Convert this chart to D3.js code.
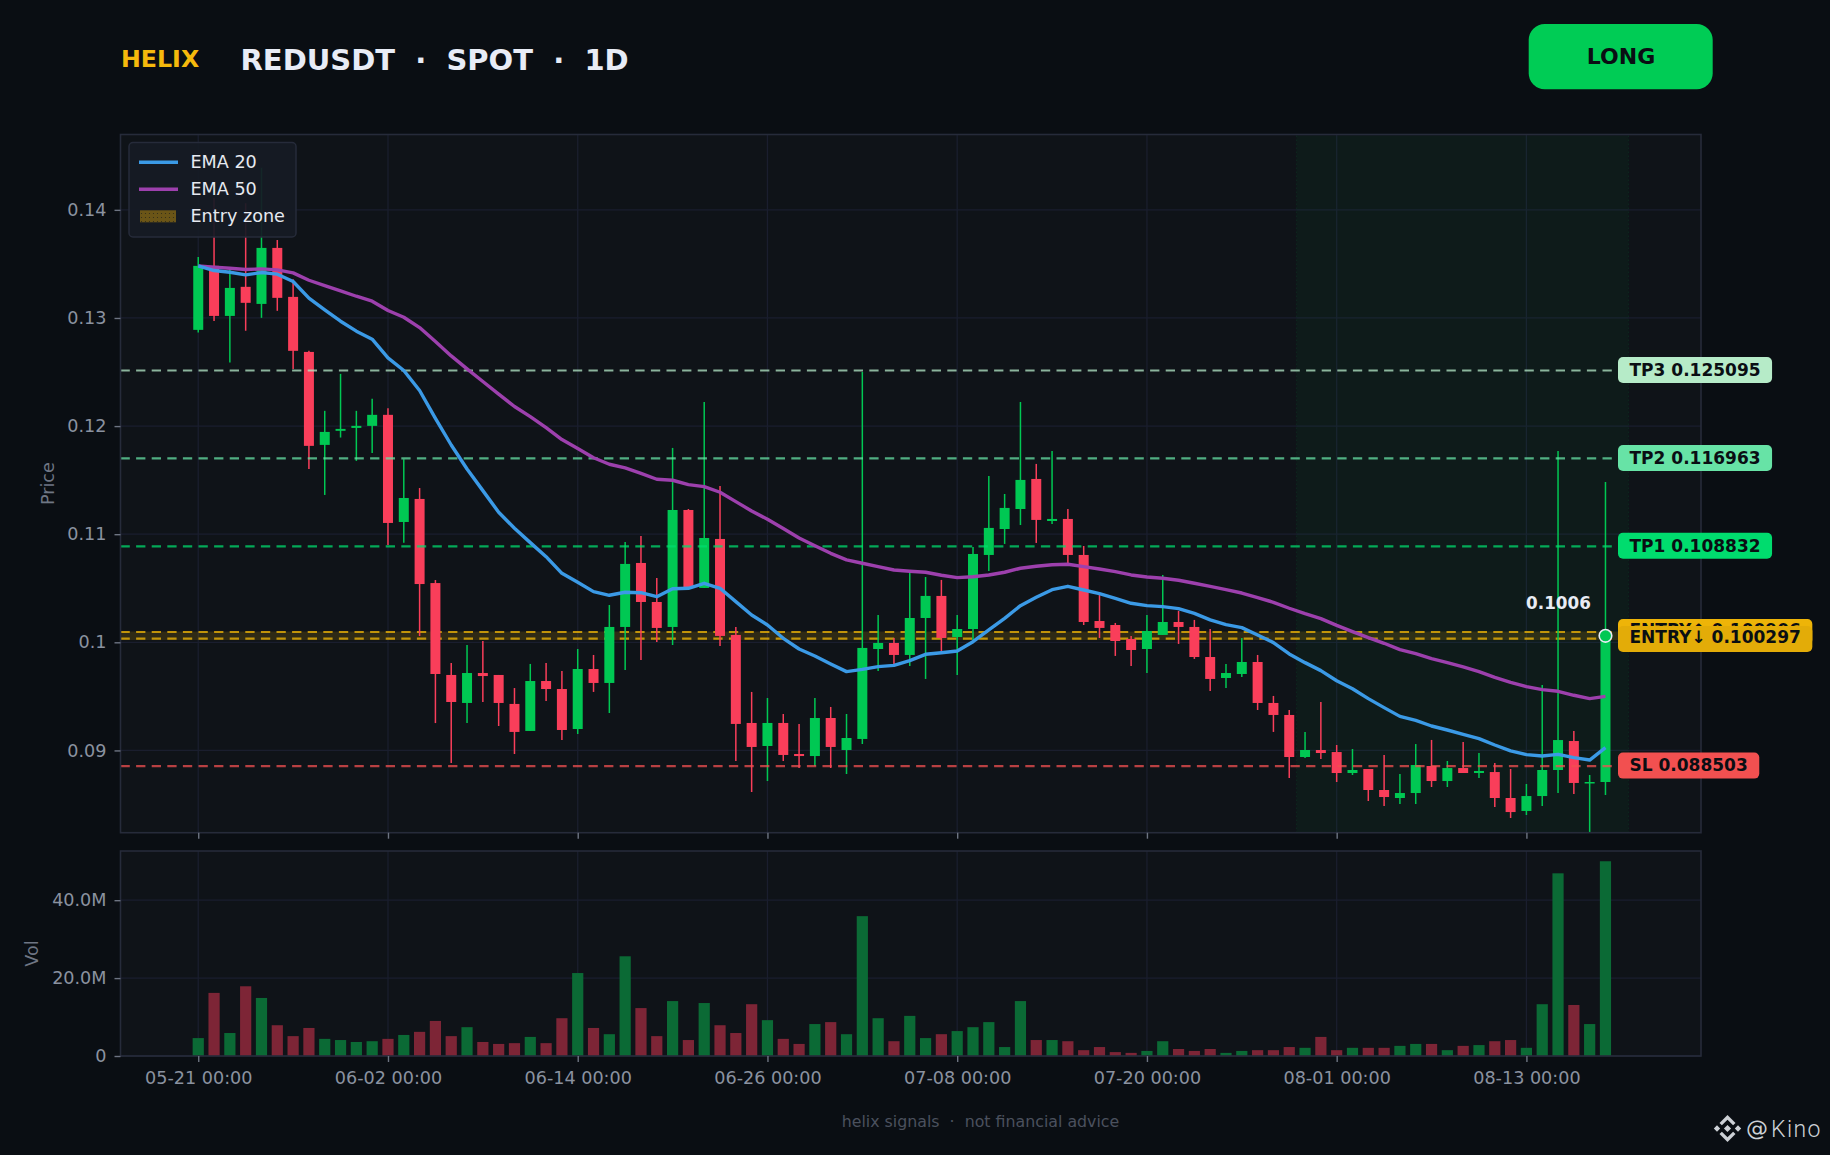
<!DOCTYPE html>
<html>
<head>
<meta charset="utf-8">
<script src="https://cdn.jsdelivr.net/npm/d3@7"></script>
<style>
  html, body { margin: 0; padding: 0; background: #0a0e13; }
  svg { display: block; }
  text { font-family: "DejaVu Sans", sans-serif; white-space: pre; }
</style>
</head>
<body>
<div id="chart"></div>
<script>
// values, one entry per daily candle from 05-21
const firstDay = "2025-05-21";
const opens = [.1289,.13482,.13019,.13288,.1313,.13648,.13195,.12686,.11826,.11956,.11983,.12002,.12104,.11113,.11326,.10548,.09698,.09439,.09716,.09698,.0943,.0918,.09642,.09568,.09198,.09753,.09624,.10142,.10734,.10373,.10142,.11224,.10503,.10956,.10068,.09254,.09041,.09254,.08967,.08948,.093,.09004,.09106,.09938,.09994,.09883,.10225,.10429,.10049,.10123,.10808,.11048,.11233,.11511,.11122,.11141,.10808,.10197,.1016,.10031,.09938,.10068,.10188,.10142,.09864,.0967,.09707,.09818,.09439,.09328,.08939,.09004,.08985,.08791,.08828,.08634,.0856,.08606,.08856,.08717,.08837,.08791,.088,.0856,.0844,.08578,.08819,.09087,.08699,.08708];
const closes = [.13482,.13019,.13278,.1314,.13648,.13186,.12696,.11817,.11946,.11974,.12002,.12104,.11104,.11335,.10539,.09707,.09448,.09716,.09688,.09439,.09171,.09642,.09568,.09189,.09753,.09624,.10142,.10725,.10373,.10133,.11224,.10503,.10965,.10059,.09245,.09032,.09254,.08958,.08948,.093,.09032,.09115,.09948,.09994,.09883,.10225,.10429,.1004,.10123,.10817,.11058,.11243,.11502,.11132,.11141,.10808,.10188,.10133,.10012,.09929,.10105,.10188,.10142,.09864,.09661,.09716,.09818,.09439,.09328,.08939,.09004,.08976,.08791,.08819,.08634,.08569,.08606,.08865,.08717,.08837,.08791,.0881,.0856,.0843,.08578,.08819,.09096,.08699,.08708,.1006];
const highs = [.13565,.1411,.13445,.1406,.1439,.13722,.13359,.12696,.12141,.12483,.12141,.12252,.12165,.11693,.11427,.10576,.09808,.09975,.10012,.09698,.09577,.098,.09809,.09735,.09938,.09883,.10345,.10928,.10984,.10595,.11798,.11233,.12223,.11446,.10142,.09541,.09485,.09337,.09245,.09485,.09402,.09337,.12501,.10253,.1004,.10641,.10604,.10577,.10253,.10882,.11539,.11372,.12223,.1165,.1177,.11233,.10891,.10438,.10179,.10059,.10253,.10623,.1029,.10207,.10123,.098,.1004,.09883,.09504,.09374,.09171,.09448,.0905,.09013,.08828,.08958,.08782,.09059,.09097,.08902,.09078,.08976,.08884,.08828,.08689,.09605,.1177,.0918,.08773,.11483];
const lows = [.12865,.12973,.12588,.12881,.13001,.13066,.12529,.11604,.11363,.11894,.11678,.11752,.109,.10921,.10058,.09253,.08883,.09253,.09448,.09226,.08967,.0918,.09457,.09096,.09152,.09541,.09346,.09744,.09837,.10003,.09975,.10503,.10503,.09966,.08902,.08615,.08717,.08902,.08837,.08856,.08837,.08782,.0906,.09735,.0979,.09781,.09661,.09911,.09698,.10022,.1066,.1091,.11085,.10919,.11095,.10731,.1016,.1004,.09874,.09781,.09716,.10068,.09985,.09846,.0955,.09578,.09679,.09374,.09171,.08745,.0893,.08921,.08708,.08773,.08532,.08486,.08504,.08504,.08662,.08662,.08791,.08745,.08477,.08375,.08403,.08486,.08606,.08597,.08245,.08588];
const volumes = [4.6,16.2,5.9,17.9,14.9,7.9,5.1,7.2,4.4,4.1,3.6,3.8,4.4,5.4,6.2,9.0,5.1,7.4,3.6,3.1,3.3,4.9,3.3,9.7,21.3,7.2,5.6,25.6,12.3,5.1,14.1,4.1,13.6,7.9,5.9,13.3,9.2,4.4,3.1,8.2,8.7,5.6,35.9,9.7,3.8,10.3,4.6,5.6,6.4,7.4,8.7,2.3,14.1,4.1,4.1,3.8,1.5,2.3,1.0,0.8,1.3,3.8,1.8,1.3,1.8,0.8,1.3,1.5,1.5,2.3,2.1,4.9,1.5,2.1,2.1,2.1,2.6,3.1,3.1,1.5,2.6,2.8,3.8,4.1,2.1,13.3,46.9,13.1,8.2,50.0];
const ema20 = [.13482,.13439,.13423,.13399,.1342,.13405,.13337,.13183,.13075,.1297,.12878,.12804,.12631,.12514,.12329,.12072,.11825,.11603,.11403,.11203,.11055,.10922,.10792,.10638,.10555,.10469,.10435,.10463,.10459,.10422,.10496,.105,.10546,.105,.10376,.10253,.1016,.10037,.09938,.09874,.098,.09729,.0975,.09775,.09787,.0983,.09889,.09904,.0992,.10006,.10114,.10222,.10339,.10416,.10487,.10518,.10484,.1045,.10407,.10361,.10339,.1033,.10311,.10268,.10207,.10163,.10136,.10068,.09997,.09892,.09812,.09738,.09645,.09571,.09479,.09396,.09315,.09278,.09226,.09189,.09149,.09109,.0905,.08995,.08961,.08948,.08964,.08933,.08911,.09026];
const ema50 = [.13482,.1347,.1346,.13448,.13454,.13445,.13417,.13349,.133,.13251,.13201,.13155,.13069,.13007,.12911,.12782,.12649,.12529,.12412,.12295,.12181,.12088,.11985,.11875,.11793,.11707,.11647,.11613,.11563,.11508,.11499,.11459,.1144,.11388,.11301,.11215,.11138,.11052,.10965,.10894,.10823,.10762,.10731,.107,.10669,.10657,.10648,.1062,.10598,.10607,.10623,.10648,.10685,.10703,.10718,.10722,.107,.10678,.10654,.10623,.10604,.10592,.10574,.10546,.10518,.10487,.10456,.10413,.1037,.10315,.10265,.10219,.10157,.10099,.10043,.09991,.09932,.09895,.09849,.09812,.09772,.09729,.09676,.0963,.0959,.09562,.09547,.0951,.09479,.095];

const priceTicks = [0.09, 0.10, 0.11, 0.12, 0.13, 0.14];
const volTicks = [0, 20, 40];
const dateTicks = ["2025-05-21", "2025-06-02", "2025-06-14", "2025-06-26", "2025-07-08", "2025-07-20", "2025-08-01", "2025-08-13"];

const targetNames = ["TP3", "TP2", "TP1"];
const targetPrices = [0.125095, 0.116963, 0.108832];
const targetLine = ["#b6ebc8", "#67e3a6", "#00dc6e"];
const entryPrices = [0.100906, 0.100297];
const stopPrice = 0.088503;
const lastPrice = 0.1006;
const shadeFrom = 69.47, shadeTo = 90.47; // trade window, in candles from first day

const WIDTH = 1830, HEIGHT = 1155;
const GREEN = "#00c853", RED = "#f93e5a", AMBER = "#e8b008", SL = "#f25050";
const GRID = "#1a1e2e", SPINE = "#262b3a", PANEL = "#0f1318", TICK = "#8a92a0";

const parseDay = d3.utcParse("%Y-%m-%d");
const start = parseDay(firstDay);
const candles = opens.map((o, i) => ({
    i, date: d3.utcDay.offset(start, i), open: o, close: closes[i],
    high: highs[i], low: lows[i], vol: volumes[i]
}));
const tickDates = dateTicks.map(parseDay);

const pricePanel = {left: 120.5, right: 1701, top: 134.5, bottom: 832.7};
const volPanel = {left: 120.5, right: 1701, top: 851, bottom: 1056};

const x = d3.scaleUtc()
    .domain([d3.utcHour.offset(start, -4.9 * 24), d3.utcHour.offset(start, 95.08 * 24)])
    .range([pricePanel.left, pricePanel.right]);
const y = d3.scaleLinear().domain([0.08239, 0.14697]).range([pricePanel.bottom, pricePanel.top]);
const yVol = d3.scaleLinear().domain([0, 52.63]).range([volPanel.bottom, volPanel.top]);
const dayX = i => x(d3.utcHour.offset(start, i * 24));

const svg = d3.select("#chart").append("svg")
    .attr("width", WIDTH).attr("height", HEIGHT);
svg.append("rect").attr("width", WIDTH).attr("height", HEIGHT).attr("fill", "#0a0e13");

const defs = svg.append("defs");
defs.append("clipPath").attr("id", "clipPrice").append("rect")
    .attr("x", pricePanel.left).attr("y", pricePanel.top)
    .attr("width", pricePanel.right - pricePanel.left).attr("height", pricePanel.bottom - pricePanel.top);
const hatch = defs.append("pattern").attr("id", "dots")
    .attr("width", 4).attr("height", 4).attr("patternUnits", "userSpaceOnUse");
hatch.append("rect").attr("width", 4).attr("height", 4).attr("fill", "#6b5517");
hatch.append("circle").attr("cx", 1.5).attr("cy", 1.5).attr("r", 0.6).attr("fill", "#2e2a18");

// panels
[pricePanel, volPanel].forEach(p => {
    svg.append("rect").attr("x", p.left).attr("y", p.top)
        .attr("width", p.right - p.left).attr("height", p.bottom - p.top)
        .attr("fill", PANEL);
});

// grid
function grid(panel, scale, values) {
    const g = svg.append("g").attr("stroke", GRID).attr("stroke-width", 1.3);
    g.selectAll("line.v").data(tickDates).enter().append("line").attr("class", "v")
        .attr("x1", d => x(d)).attr("x2", d => x(d))
        .attr("y1", panel.top).attr("y2", panel.bottom);
    g.selectAll("line.h").data(values).enter().append("line").attr("class", "h")
        .attr("x1", panel.left).attr("x2", panel.right)
        .attr("y1", d => scale(d)).attr("y2", d => scale(d));
}
grid(pricePanel, y, priceTicks);
grid(volPanel, yVol, volTicks);

// trade window shading
svg.append("rect")
    .attr("x", dayX(shadeFrom)).attr("y", pricePanel.top + 1)
    .attr("width", dayX(shadeTo) - dayX(shadeFrom)).attr("height", pricePanel.bottom - pricePanel.top - 1)
    .attr("fill", GREEN).attr("fill-opacity", 0.042);
svg.selectAll("line.shade").data([shadeFrom, shadeTo]).enter().append("line")
    .attr("x1", d => dayX(d)).attr("x2", d => dayX(d))
    .attr("y1", pricePanel.top + 1).attr("y2", pricePanel.bottom)
    .attr("stroke", GREEN).attr("stroke-opacity", 0.1).attr("stroke-dasharray", "1.5,2.5");

// entry zone sits under the candles
svg.append("rect")
    .attr("x", pricePanel.left).attr("width", pricePanel.right - pricePanel.left)
    .attr("y", y(entryPrices[0]) - 1).attr("height", y(entryPrices[1]) - y(entryPrices[0]) + 2)
    .attr("fill", AMBER).attr("fill-opacity", 0.15);
svg.selectAll("line.entry").data(entryPrices).enter().append("line")
    .attr("x1", pricePanel.left).attr("x2", pricePanel.right)
    .attr("y1", d => y(d) - 0.5).attr("y2", d => y(d) - 0.5)
    .attr("stroke", AMBER).attr("stroke-opacity", 0.8).attr("stroke-width", 2.2)
    .attr("stroke-dasharray", "9.3,6.3");

// candles
const candleG = svg.append("g").attr("clip-path", "url(#clipPrice)");
const colour = d => d.close >= d.open ? GREEN : RED;
candleG.selectAll("line.wick").data(candles).enter().append("line")
    .attr("class", "wick")
    .attr("x1", d => x(d.date)).attr("x2", d => x(d.date))
    .attr("y1", d => y(d.high)).attr("y2", d => y(d.low))
    .attr("stroke", colour).attr("stroke-width", 1.5);
candleG.selectAll("rect.body").data(candles).enter().append("rect")
    .attr("class", "body")
    .attr("x", d => x(d.date) - 5).attr("width", 10)
    .attr("y", d => y(Math.max(d.open, d.close)))
    .attr("height", d => Math.max(1.5, Math.abs(y(d.open) - y(d.close))))
    .attr("fill", colour);

// targets and stop over the candles
const levelLines = targetPrices.map((p, i) => ({p, c: targetLine[i]})).concat([{p: stopPrice, c: SL}]);
svg.selectAll("line.level").data(levelLines).enter().append("line")
    .attr("x1", pricePanel.left).attr("x2", 1618)
    .attr("y1", d => y(d.p) - 0.5).attr("y2", d => y(d.p) - 0.5)
    .attr("stroke", d => d.c).attr("stroke-opacity", 0.75).attr("stroke-width", 2.2)
    .attr("stroke-dasharray", "9.3,6.3");

// EMAs
const emaLine = d3.line().x((d, i) => dayX(i)).y(d => y(d));
svg.append("path").datum(ema50).attr("d", emaLine).attr("fill", "none")
    .attr("stroke", "#9d40ad").attr("stroke-width", 3.4).attr("stroke-linejoin", "round");
svg.append("path").datum(ema20).attr("d", emaLine).attr("fill", "none")
    .attr("stroke", "#3b9ae6").attr("stroke-width", 3.4).attr("stroke-linejoin", "round");

// volume
svg.selectAll("rect.vol").data(candles).enter().append("rect")
    .attr("class", "vol")
    .attr("x", d => x(d.date) - 5.6).attr("width", 11.2)
    .attr("y", d => yVol(d.vol)).attr("height", d => yVol(0) - yVol(d.vol))
    .attr("fill", d => d.close >= d.open ? "#0b6a35" : "#7d2536");

// spines
[pricePanel, volPanel].forEach(p => {
    svg.append("rect").attr("x", p.left).attr("y", p.top)
        .attr("width", p.right - p.left).attr("height", p.bottom - p.top)
        .attr("fill", "none").attr("stroke", SPINE).attr("stroke-width", 1.6);
});

// axes
function styleAxis(g) {
    g.select(".domain").remove();
    g.selectAll(".tick line").attr("stroke", "#6d7482").attr("stroke-width", 1.4);
    g.selectAll(".tick text").attr("fill", TICK).attr("font-size", 17.6)
        .attr("font-family", "DejaVu Sans");
}
svg.append("g").attr("transform", `translate(${pricePanel.left},0)`)
    .call(d3.axisLeft(y).tickValues(priceTicks).tickSize(6).tickPadding(8).tickFormat(d => String(+d.toFixed(2))))
    .call(styleAxis);
svg.append("g").attr("transform", `translate(${volPanel.left},0)`)
    .call(d3.axisLeft(yVol).tickValues(volTicks).tickSize(6).tickPadding(8).tickFormat(d => d === 0 ? "0" : d3.format(".1f")(d) + "M"))
    .call(styleAxis);
svg.append("g").attr("transform", `translate(0,${pricePanel.bottom})`)
    .call(d3.axisBottom(x).tickValues(tickDates).tickSize(6).tickFormat(""))
    .call(styleAxis);
svg.append("g").attr("transform", `translate(0,${volPanel.bottom})`)
    .call(d3.axisBottom(x).tickValues(tickDates).tickSize(6).tickPadding(10).tickFormat(d3.utcFormat("%m-%d %H:%M")))
    .call(styleAxis);

svg.append("text").attr("transform", `translate(54,${(pricePanel.top + pricePanel.bottom) / 2}) rotate(-90)`)
    .attr("text-anchor", "middle").attr("fill", "#6f7684").attr("font-size", 17.6).text("Price");
svg.append("text").attr("transform", `translate(38,${(volPanel.top + volPanel.bottom) / 2}) rotate(-90)`)
    .attr("text-anchor", "middle").attr("fill", "#6f7684").attr("font-size", 17.6).text("Vol");

// legend
const legend = svg.append("g");
legend.append("rect").attr("x", 129).attr("y", 142.5).attr("width", 167).attr("height", 94.5).attr("rx", 4)
    .attr("fill", "#161b25").attr("fill-opacity", 0.93).attr("stroke", "#262b3a").attr("stroke-width", 1.5);
const legendRows = [["EMA 20", "#3b9ae6"], ["EMA 50", "#9d40ad"], ["Entry zone", null]];
legendRows.forEach((r, i) => {
    const ly = 162.3 + i * 27;
    if (r[1]) {
        legend.append("line").attr("x1", 139).attr("x2", 178).attr("y1", ly).attr("y2", ly)
            .attr("stroke", r[1]).attr("stroke-width", 3.4);
    } else {
        legend.append("rect").attr("x", 140).attr("y", ly - 6).attr("width", 36).attr("height", 12)
            .attr("fill", "url(#dots)");
    }
    legend.append("text").attr("x", 190.5).attr("y", ly + 5.4).attr("fill", "#e6e9f0")
        .attr("font-size", 17.6).text(r[0]);
});

// level tags on the right, the upper entry tag is partly under the lower one as in the source
const tags = [
    {name: "ENTRY↑", p: entryPrices[0], c: "#eeb408", top: 619, base: 636},
    {name: "ENTRY↓", p: entryPrices[1], c: "#e3ac08", top: 626, base: 643.3},
    {name: targetNames[0], p: targetPrices[0], c: targetLine[0]},
    {name: targetNames[1], p: targetPrices[1], c: targetLine[1]},
    {name: targetNames[2], p: targetPrices[2], c: targetLine[2]},
    {name: "SL", p: stopPrice, c: SL}
];
tags.forEach(t => {
    const cy = y(t.p) - 1;
    const top = t.top || cy - 13;
    const g = svg.append("g");
    const label = g.append("text").attr("x", 1629.5).attr("y", t.base || cy + 5.7).attr("fill", "#0a0e13")
        .attr("font-size", 17).attr("font-weight", "bold").text(t.name + " " + t.p.toFixed(6));
    const w = label.node().getComputedTextLength();
    g.insert("rect", "text").attr("x", 1618).attr("y", top).attr("width", w + 23).attr("height", 26).attr("rx", 5)
        .attr("fill", t.c);
});

// last price marker
svg.append("circle").attr("cx", dayX(89)).attr("cy", y(lastPrice)).attr("r", 6.3)
    .attr("fill", GREEN).attr("stroke", "#e8ecf4").attr("stroke-width", 1.6);
svg.append("text").attr("x", 1558.5).attr("y", 609).attr("text-anchor", "middle")
    .attr("fill", "#e8ecf4").attr("font-size", 16.8).attr("font-weight", "bold").text(String(lastPrice));

// header
svg.append("text").attr("x", 121).attr("y", 67).attr("fill", "#f5b90c")
    .attr("font-size", 23.7).attr("font-weight", "bold").text("HELIX");
svg.append("text").attr("x", 240.5).attr("y", 70).attr("fill", "#e8ecf6")
    .attr("font-size", 29).attr("font-weight", "bold").text("REDUSDT  ·  SPOT  ·  1D");
svg.append("rect").attr("x", 1528.7).attr("y", 24).attr("width", 184).attr("height", 65.3).attr("rx", 16)
    .attr("fill", "#00cc55");
svg.append("text").attr("x", 1621).attr("y", 63.5).attr("text-anchor", "middle").attr("fill", "#0a0e13")
    .attr("font-size", 22).attr("font-weight", "bold").text("LONG");

// footer
svg.append("text").attr("x", 980.5).attr("y", 1127).attr("text-anchor", "middle").attr("fill", "#4b515e")
    .attr("font-size", 15.8).text("helix signals  ·  not financial advice");

// watermark
const mark = svg.append("g").attr("fill", "#cdd1d6");
const logo = mark.append("g").attr("transform", "translate(1727.5,1128.5)");
const dia = (cx, cy, r) => `M${cx},${cy - r}L${cx + r},${cy}L${cx},${cy + r}L${cx - r},${cy}Z`;
logo.append("path").attr("d", dia(0, 0, 3.6));
logo.append("path").attr("d", dia(-10.5, 0, 3.2) + dia(10.5, 0, 3.2));
logo.append("path").attr("d", "M0,-13.5L8,-5.5L5.6,-3.2L0,-8.8L-5.6,-3.2L-8,-5.5Z");
logo.append("path").attr("d", "M0,13.5L8,5.5L5.6,3.2L0,8.8L-5.6,3.2L-8,5.5Z");
mark.append("text").attr("x", 1746).attr("y", 1136).attr("font-size", 22).text("@");
mark.append("text").attr("x", 1771).attr("y", 1136.5).attr("font-size", 23).attr("letter-spacing", 1.4)
    .style("font-family", "Roboto").attr("font-weight", 300).text("Kino");
</script>
</body>
</html>
